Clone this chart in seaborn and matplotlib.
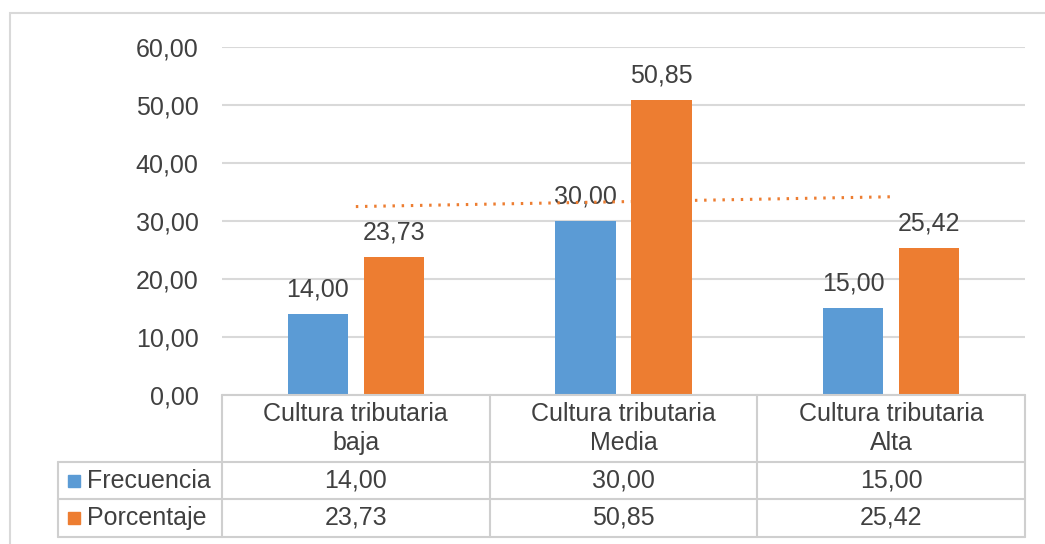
import numpy as np
import pandas as pd
import seaborn as sns
import matplotlib.pyplot as plt
from matplotlib.ticker import FuncFormatter
from matplotlib.patches import Rectangle

sns.set_theme(style="white")
plt.rcParams['font.family'] = ['Liberation Sans', 'DejaVu Sans']

categorias = ["Cultura tributaria\nbaja", "Cultura tributaria\nMedia", "Cultura tributaria\nAlta"]
frecuencia = [14.00, 30.00, 15.00]
porcentaje = [23.73, 50.85, 25.42]
series = ["Frecuencia", "Porcentaje"]
colores = ["#5B9BD5", "#ED7D31"]
texto = "#404040"
linea = "#D9D9D9"
fs = 18

df = pd.DataFrame({
    "categoria": categorias * 2,
    "serie": ["Frecuencia"] * 3 + ["Porcentaje"] * 3,
    "valor": frecuencia + porcentaje,
})

def coma(v):
    return f"{v:.2f}".replace(".", ",")

W, H = 1045, 544
fig = plt.figure(figsize=(W / 100, H / 100), dpi=100)

# marco exterior
fig.patches.append(Rectangle((10 / W, -0.1), 1.2, (H - 13) / H + 0.1, transform=fig.transFigure,
                             fill=False, edgecolor=linea, lw=1.5))

x0, x1, ytop, ybot = 222, 1025, 47, 395
ax = fig.add_axes([x0 / W, (H - ybot) / H, (x1 - x0) / W, (ybot - ytop) / H])
sns.barplot(data=df, x="categoria", y="valor", hue="serie", hue_order=series,
            palette=colores, width=0.568, gap=0.21, saturation=1, linewidth=0,
            ax=ax, legend=False)
ax.set_xlim(-0.5, 2.5)
ax.set_ylim(0, 60)
ax.set_yticks(np.arange(0, 61, 10))
ax.yaxis.set_major_formatter(FuncFormatter(lambda v, p: coma(v)))
ax.tick_params(axis="y", length=0, pad=17, labelsize=fs, labelcolor=texto)
ax.set_xticks([])
ax.set_xlabel("")
ax.set_ylabel("")
ax.grid(axis="y", color=linea, lw=1.5)
ax.set_axisbelow(True)
for s in ax.spines.values():
    s.set_visible(False)

for cont, vals in zip(ax.containers, [frecuencia, porcentaje]):
    ax.bar_label(cont, labels=[coma(v) for v in vals], padding=9, fontsize=fs, color=texto)

# linea de tendencia lineal (Porcentaje)
xs = np.arange(len(porcentaje))
m, b = np.polyfit(xs, porcentaje, 1)
ax.plot(xs, m * xs + b, color=colores[1], lw=2.2, linestyle=(0, (0.8, 2.2)), zorder=5)

# tabla de datos
tx0 = 58
ppc = (x1 - x0) / 3.0
tax = fig.add_axes([tx0 / W, (H - 537) / H, (x1 - tx0) / W, (537 - ybot) / H])
tax.set_xlim(-0.5 - (x0 - tx0) / ppc, 2.5)
tax.set_ylim(537 - ybot, 0)
tax.axis("off")
lx = -0.5 - (x0 - tx0) / ppc
kw = dict(color="#CFCFCF", lw=1.5, clip_on=False)
filas = [0, 67, 104, 142]
tax.plot([-0.5, 2.5], [filas[0]] * 2, **kw)
for yy in filas[1:]:
    tax.plot([lx, 2.5], [yy] * 2, **kw)
for xx in [-0.5, 0.5, 1.5, 2.5]:
    tax.plot([xx, xx], [0, filas[-1]], **kw)
tax.plot([lx, lx], [filas[1], filas[-1]], **kw)

for i, cat in enumerate(categorias):
    tax.text(i, filas[1] / 2, cat, ha="center", va="center", fontsize=fs,
             color=texto, linespacing=1.25)
    tax.text(i, (filas[1] + filas[2]) / 2, coma(frecuencia[i]), ha="center", va="center",
             fontsize=fs, color=texto)
    tax.text(i, (filas[2] + filas[3]) / 2, coma(porcentaje[i]), ha="center", va="center",
             fontsize=fs, color=texto)

for j, (nombre, col) in enumerate(zip(series, colores)):
    yc = (filas[j + 1] + filas[j + 2]) / 2
    tax.plot([lx + 0.06], [yc], marker="s", ms=8, color=col, clip_on=False)
    tax.text(lx + 0.11, yc, nombre, ha="left", va="center", fontsize=fs, color=texto)

fig.savefig("out.png", dpi=100)
